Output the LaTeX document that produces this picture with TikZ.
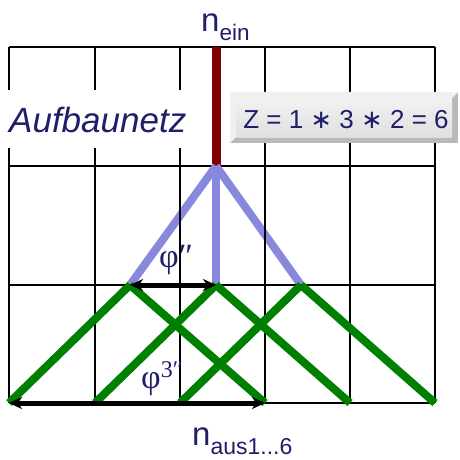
\documentclass[tikz,border=0pt]{standalone}
\usepackage{fontspec}
\setmainfont{Liberation Sans}
\newfontfamily\serifphi{Liberation Serif}
\newfontfamily\dejavu{DejaVu Sans}
\usetikzlibrary{arrows.meta}
\definecolor{navytext}{RGB}{30,30,105}
\definecolor{netblue}{RGB}{136,136,221}
\definecolor{netgreen}{RGB}{0,128,0}
\definecolor{netred}{RGB}{128,0,0}
\tikzset{
  gridline/.style={line width=1.6pt, black},
  redline/.style={line width=9pt, netred},
  blueline/.style={line width=8pt, netblue},
  greenline/.style={line width=8pt, netgreen},
  dimarrow/.style={line width=5pt, black, {Stealth[length=13pt,width=12pt,inset=4pt]}-{Stealth[length=13pt,width=12pt,inset=4pt]}},
  labeltext/.style={text=navytext, inner sep=0pt},
}
\begin{document}
\begin{tikzpicture}[x=1pt,y=-1pt]
\useasboundingbox (0,0) rectangle (459,460);
% grid
\foreach \gx in {9,95,180,265,350,435} \draw[gridline] (\gx,47) -- (\gx,403);
\foreach \gy in {47,166,285,403} \draw[gridline] (9,\gy) -- (435,\gy);
% coordinates
\coordinate (top) at (216,47);
\coordinate (hub) at (216,166);
\coordinate (m1) at (130,285);
\coordinate (m2) at (216,285);
\coordinate (m3) at (301,285);
\coordinate (b0) at (9,403);
\coordinate (b1) at (95,403);
\coordinate (b2) at (180,403);
\coordinate (b3) at (265,403);
\coordinate (b4) at (350,403);
\coordinate (b5) at (435,403);
% lines
\draw[redline] (top) -- (hub);
\draw[blueline] (hub) -- (m1);
\draw[blueline] (hub) -- (m2);
\draw[blueline] (hub) -- (m3);
\foreach \gx in {95,180,265} \draw[gridline] (\gx,166) -- (\gx,285);
\draw[gridline] (9,285) -- (435,285);
\draw[greenline] (m1) -- (b0);
\draw[greenline] (m1) -- (b3);
\draw[greenline] (m2) -- (b1);
\draw[greenline] (m2) -- (b4);
\draw[greenline] (m3) -- (b2);
\draw[greenline] (m3) -- (b5);
% dimension arrows
\draw[dimarrow] (m1) -- (m2);
\draw[dimarrow] (b0) -- (b3);
% labels
\node[labeltext, anchor=base west] (nein) at (201,32) {\fontsize{33}{33}\selectfont n\raisebox{-9pt}{\fontsize{22.5}{22.5}\selectfont ein}};
\node[labeltext, anchor=base west] (naus) at (192,445) {\fontsize{33}{33}\selectfont n\raisebox{-9pt}{\fontsize{23}{23}\selectfont aus1...6}};
\node[labeltext, fill=white, inner xsep=6pt, inner ysep=0pt, text height=42pt, text depth=16pt, anchor=base west] (aufbau) at (3,132) {\fontsize{35}{35}\selectfont\itshape Aufbaunetz};
\node[labeltext, anchor=base west] (phi1) at (159,267) {\serifphi\fontsize{34}{34}\selectfont φ″};
\node[labeltext, anchor=base west] (phi2) at (141,388) {\serifphi\fontsize{34}{34}\selectfont φ\raisebox{11pt}{\fontsize{24}{24}\selectfont 3″}};
% Z box
\node[minimum width=228pt, minimum height=51pt, inner sep=0pt, fill=gray!55] (zbox) at (344,117.5) {};
\fill[gray!12] (zbox.north west) -- (zbox.north east) -- ([xshift=-6pt,yshift=-6pt]zbox.north east) -- ([xshift=6pt,yshift=-6pt]zbox.north west) -- ([xshift=6pt,yshift=6pt]zbox.south west) -- (zbox.south west) -- cycle;
\shade[top color=gray!10, bottom color=gray!25] ([xshift=6pt,yshift=-6pt]zbox.north west) rectangle ([xshift=-6pt,yshift=6pt]zbox.south east);
\node[labeltext, anchor=base] (ztext) at (346,128) {\fontsize{26}{26}\selectfont Z = 1 {\dejavu ∗} 3 {\dejavu ∗} 2 = 6};
\end{tikzpicture}
\end{document}
